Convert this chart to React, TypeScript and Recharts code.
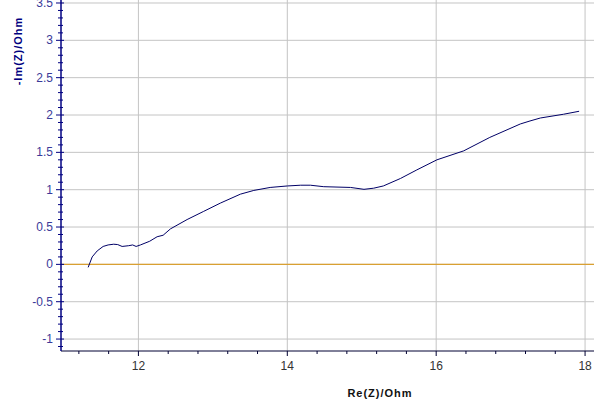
import React from 'react';
import { LineChart, Line, XAxis, YAxis, ReferenceLine, Label } from 'recharts';

// Nyquist curve
const reZ = [
  11.325, 11.379, 11.446, 11.526, 11.593, 11.668, 11.722, 11.781, 11.87, 11.923,
  11.969, 12.027, 12.152, 12.251, 12.332, 12.43, 12.654, 12.877, 13.1, 13.37,
  13.55, 13.77, 14.0, 14.18, 14.31, 14.49, 14.85, 15.03, 15.16, 15.29,
  15.52, 15.74, 16.01, 16.37, 16.72, 17.13, 17.26, 17.4, 17.71, 17.92
];
const minusImZ = [
  -0.04, 0.1, 0.18, 0.24, 0.26, 0.27, 0.265, 0.24, 0.25, 0.26,
  0.24, 0.26, 0.31, 0.37, 0.39, 0.475, 0.6, 0.71, 0.82, 0.94,
  0.99, 1.03, 1.05, 1.06, 1.06, 1.04, 1.03, 1.005, 1.02, 1.05,
  1.15, 1.265, 1.4, 1.52, 1.7, 1.88, 1.92, 1.96, 2.01, 2.05
];

const xMajor = [12, 14, 16, 18];
const xTicks = [11.2, 11.6, 12, 12.4, 12.8, 13.2, 13.6, 14, 14.4, 14.8, 15.2, 15.6, 16, 16.4, 16.8, 17.2, 17.6, 18];
const yMajor = [-1, -0.5, 0, 0.5, 1, 1.5, 2, 2.5, 3, 3.5];
const yTicks = [
  -1.1, -1, -0.9, -0.8, -0.7, -0.6, -0.5, -0.4, -0.3, -0.2, -0.1, 0,
  0.1, 0.2, 0.3, 0.4, 0.5, 0.6, 0.7, 0.8, 0.9, 1, 1.1, 1.2, 1.3, 1.4, 1.5,
  1.6, 1.7, 1.8, 1.9, 2, 2.1, 2.2, 2.3, 2.4, 2.5, 2.6, 2.7, 2.8, 2.9, 3,
  3.1, 3.2, 3.3, 3.4, 3.5
];

const data = reZ.map((re, i) => ({ re, im: minusImZ[i] }));

const isMajor = (list: number[], v: number) => list.some((m) => Math.abs(m - v) < 1e-6);

const AXIS = '#000080';
const GRID = '#c4c4c4';
const FONT = 'Arial, "Liberation Sans", sans-serif';

const XTick = (props: any) => {
  const { x, y, payload } = props;
  const major = isMajor(xMajor, payload.value);
  return (
    <g>
      <line x1={x} x2={x} y1={y} y2={y + (major ? 5 : 3)} stroke="#000033" />
      {major && (
        <text x={x} y={y + 19} textAnchor="middle" fontSize={12} fontFamily={FONT} fill="#333333">
          {payload.value}
        </text>
      )}
    </g>
  );
};

const YTick = (props: any) => {
  const { x, y, payload } = props;
  const major = isMajor(yMajor, payload.value);
  return (
    <g>
      <line x1={x - (major ? 5 : 3)} x2={x + (major ? 3 : 2)} y1={y} y2={y} stroke={AXIS} />
      {major && (
        <text x={x - 8} y={y + 4} textAnchor="end" fontSize={12} fontFamily={FONT} fill="#3a3a99">
          {payload.value}
        </text>
      )}
    </g>
  );
};

export default function App() {
  return (
    <div style={{ position: 'absolute', left: 0, top: 0, background: '#fff' }}>
      <LineChart width={594} height={404} data={data} margin={{ top: 0, right: 0, bottom: 0, left: 0 }}>
        <XAxis
          type="number"
          dataKey="re"
          domain={[10.96, 18.12]}
          ticks={xTicks}
          interval={0}
          tickSize={0}
          tickMargin={0}
          tickLine={false}
          tick={<XTick />}
          height={53}
          stroke="#000033"
          allowDataOverflow
        >
          <Label
            content={({ viewBox }: any) => (
              <text
                x={viewBox.x + 319}
                y={viewBox.y + 46}
                textAnchor="middle"
                fontSize={11}
                fontWeight="bold"
                fontFamily={FONT}
                letterSpacing={1}
                fill="#111111"
              >
                Re(Z)/Ohm
              </text>
            )}
          />
        </XAxis>
        <YAxis
          type="number"
          domain={[-1.16, 3.54]}
          ticks={yTicks}
          interval={0}
          tickSize={0}
          tickMargin={0}
          tickLine={false}
          tick={<YTick />}
          width={61}
          stroke={AXIS}
          strokeWidth={1.5}
          allowDataOverflow
        >
          <Label
            content={({ viewBox }: any) => (
              <text
                x={viewBox.x + 18}
                y={viewBox.y + 51}
                transform={`rotate(-90, ${viewBox.x + 18}, ${viewBox.y + 51})`}
                textAnchor="middle"
                dominantBaseline="central"
                fontSize={11}
                fontWeight="bold"
                fontFamily={FONT}
                letterSpacing={1}
                fill={AXIS}
              >
                -Im(Z)/Ohm
              </text>
            )}
          />
        </YAxis>
        {xMajor.map((v) => (
          <ReferenceLine key={`gx${v}`} x={v} stroke={GRID} />
        ))}
        {yMajor.map((v) => (
          <ReferenceLine key={`gy${v}`} y={v} stroke={GRID} />
        ))}
        <ReferenceLine y={0} stroke="#d9a032" strokeWidth={1.2} />
        <Line
          type="linear"
          dataKey="im"
          stroke="#000066"
          strokeWidth={1}
          dot={false}
          isAnimationActive={false}
        />
      </LineChart>
    </div>
  );
}
